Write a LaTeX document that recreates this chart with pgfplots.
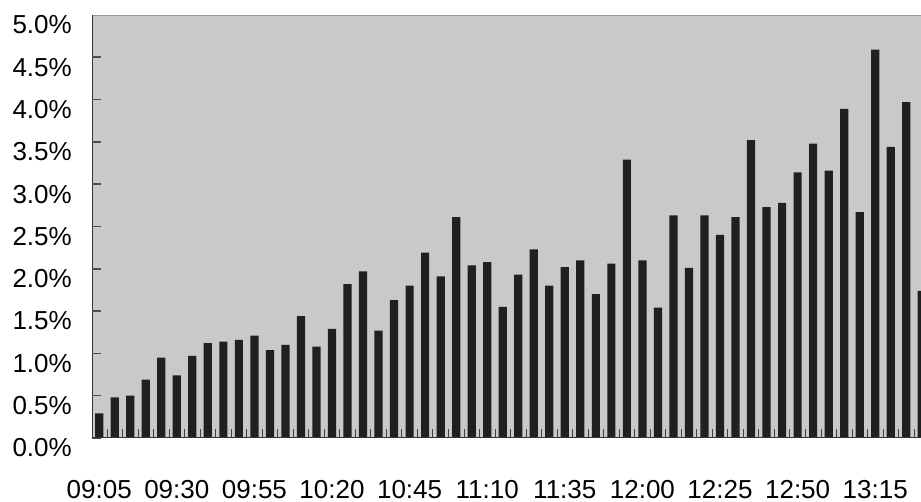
\documentclass[border=0pt]{standalone}
\usepackage{fontspec}
\setmainfont{Liberation Sans}
\usepackage{pgfplots}
\pgfplotsset{compat=1.18}

\definecolor{bgray}{RGB}{200,201,203}
\definecolor{barblk}{RGB}{35,31,32}

\pgfplotstableread{
i   v
0   0.29
1   0.48
2   0.50
3   0.69
4   0.95
5   0.74
6   0.97
7   1.12
8   1.14
9   1.16
10  1.21
11  1.04
12  1.10
13  1.44
14  1.08
15  1.29
16  1.82
17  1.97
18  1.27
19  1.63
20  1.80
21  2.19
22  1.91
23  2.61
24  2.04
25  2.08
26  1.55
27  1.93
28  2.23
29  1.80
30  2.02
31  2.10
32  1.70
33  2.06
34  3.29
35  2.10
36  1.54
37  2.63
38  2.01
39  2.63
40  2.40
41  2.61
42  3.52
43  2.73
44  2.78
45  3.14
46  3.48
47  3.16
48  3.89
49  2.67
50  4.59
51  3.44
52  3.97
53  1.74
}\shares

\begin{document}
\begin{tikzpicture}
\useasboundingbox (0,0) rectangle (921pt,502pt);
\begin{axis}[
  at={(92pt,64pt)}, anchor=south west,
  scale only axis,
  width=829pt, height=423pt,
  xmin=-0.464, xmax=52.95,
  ymin=0, ymax=5,
  axis background/.style={fill=bgray},
  axis line style={draw=none},
  tick align=inside,
  xtick pos=bottom, ytick pos=left,
  major tick length=9pt,
  minor tick length=9pt,
  tick style={color=black!75, line width=0.8pt},
  ytick={0,0.5,...,5},
  yticklabels={0.0\%,0.5\%,1.0\%,1.5\%,2.0\%,2.5\%,3.0\%,3.5\%,4.0\%,4.5\%,5.0\%},
  yticklabel style={font=\fontsize{26}{30}\selectfont, anchor=east, inner sep=0pt, xshift=-20pt, yshift=-10pt},
  xtick={0,5,...,50},
  xticklabels={09:05,09:30,09:55,10:20,10:45,11:10,11:35,12:00,12:25,12:50,13:15},
  xticklabel style={font=\fontsize{26}{30}\selectfont, anchor=north, inner sep=0pt, yshift=-42pt},
  minor xtick={-0.5,0.5,...,52.5},
]
\addplot[ybar, bar width=8.2pt, fill=barblk, draw=none] table[x=i, y=v] {\shares};
\draw[gray!80, line width=0.8pt] (rel axis cs:0,1) -- (rel axis cs:1,1);
\draw[black!80, line width=1.2pt] (rel axis cs:0,1) -- (rel axis cs:0,0) -- (rel axis cs:1,0);
\pgfplotsinvokeforeach{0.1,0.2,0.3,0.4,0.5,0.6,0.7,0.8,0.9}{
  \draw[black!70, line width=1.6pt] (rel axis cs:0,#1) -- (rel axis cs:0.011,#1);
}
\end{axis}
\end{tikzpicture}
\end{document}
